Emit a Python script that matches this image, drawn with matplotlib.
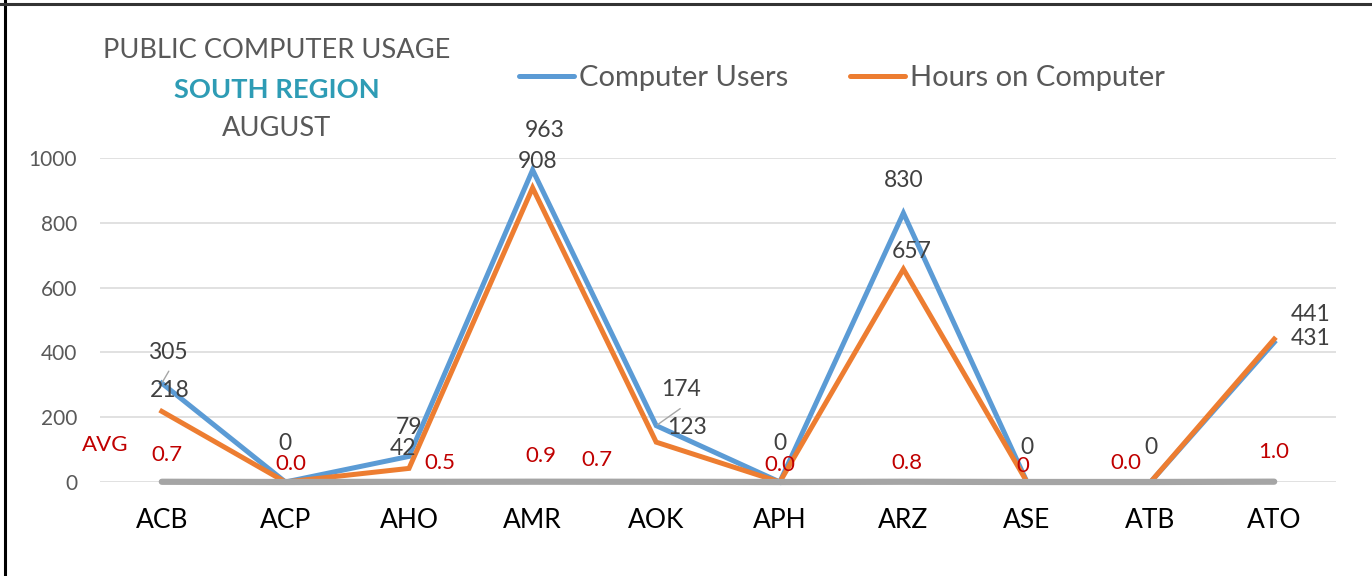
import matplotlib
matplotlib.use('Agg')
import matplotlib.pyplot as plt
from matplotlib.lines import Line2D

plt.rcParams['font.family'] = ['Lato', 'DejaVu Sans']

# data
branches = ['ACB', 'ACP', 'AHO', 'AMR', 'AOK', 'APH', 'ARZ', 'ASE', 'ATB', 'ATO']
users = [305, 0, 79, 963, 174, 0, 830, 0, 0, 431]
hours = [218, 0, 42, 908, 123, 0, 657, 0, 0, 441]
avg_vals = [0.7, 0.0, 0.5, 0.9, 0.7, 0.0, 0.8, 0, 0.0, 1.0]
avg_text = ['0.7', '0.0', '0.5', '0.9', '0.7', '0.0', '0.8', '0', '0.0', '1.0']
yticks = [0, 200, 400, 600, 800, 1000]

# label offsets in pixels (hand placed like in the excel chart)
users_off = [(6, 31), (0, 38), (0, 29), (12, 39), (25, 36), (0, 38), (0, 33), (0, 34), (0, 35), (36, 4)]
hours_off = [(8, 21), None, (-6, 20), (5, 26), (31, 15), None, (8, 18), None, None, (36, 25)]
avg_off = [(5, 27), (5, 18), (31, 19), (8, 26), (-59, 22), (0, 17), (4, 19), (-4, 16), (-25, 19), (0, 30)]
leader_end = {0: (7, 12), 4: (24, 17)}

BLUE = '#5B9BD5'
ORANGE = '#ED7D31'
GRAY = '#A5A5A5'
TXT = '#404040'
RED = '#C00000'

W, H = 1372, 576
fig = plt.figure(figsize=(W / 100, H / 100), dpi=100)
ax = fig.add_axes([100 / W, (H - 482) / H, (1336 - 100) / W, (482 - 158) / H])

x = list(range(len(branches)))
ax.plot(x, users, color=BLUE, lw=3.6, zorder=3, clip_on=False, solid_joinstyle='miter')
ax.plot(x, hours, color=ORANGE, lw=3.6, zorder=4, clip_on=False, solid_joinstyle='miter')
ax.plot(x, avg_vals, color=GRAY, lw=4.5, zorder=5, clip_on=False, solid_capstyle='round')

ax.set_xlim(-0.5, len(branches) - 0.5)
ax.set_ylim(0, 1000)
ax.set_yticks(yticks)
ax.set_xticks(x)
ax.set_xticklabels(branches)
ax.grid(axis='y', color='#D9D9D9', lw=1.1, zorder=0)
for s in ax.spines.values():
    s.set_visible(False)
ax.tick_params(axis='y', length=0, pad=16.5, labelsize=15, labelcolor='#595959')
ax.tick_params(axis='x', length=0, pad=19, labelsize=19, labelcolor='black')

# data labels
for i in x:
    dx, dy = users_off[i]
    ax.annotate(str(users[i]), (i, users[i]), xytext=(dx, dy), textcoords='offset pixels',
                ha='center', va='center', fontsize=16.5, color=TXT, zorder=6)
    if i in leader_end:
        ax.annotate('', (i, users[i]), xytext=leader_end[i], textcoords='offset pixels',
                    arrowprops=dict(arrowstyle='-', color='#A6A6A6', lw=1, shrinkA=0, shrinkB=1))
    if hours_off[i] is not None:
        dx, dy = hours_off[i]
        ax.annotate(str(hours[i]), (i, hours[i]), xytext=(dx, dy), textcoords='offset pixels',
                    ha='center', va='center', fontsize=16.5, color=TXT, zorder=6)
    dx, dy = avg_off[i]
    ax.annotate(avg_text[i], (i, 0), xytext=(dx, dy), textcoords='offset pixels',
                ha='center', va='center', fontsize=16, color=RED, zorder=6)

fig.text(82 / W, 1 - 445 / H, 'AVG', color=RED, fontsize=16, ha='left', va='center')

# title
fig.text(277 / W, 1 - 51 / H, 'PUBLIC COMPUTER USAGE', color='#595959', fontsize=19.6, ha='center', va='center')
fig.text(277 / W, 1 - 90 / H, 'SOUTH REGION', color='#2E9CB5', fontsize=19.6, fontweight='bold',
         ha='center', va='center')
fig.text(277 / W, 1 - 129 / H, 'AUGUST', color='#595959', fontsize=19.6, ha='center', va='center')

# legend
handles = [Line2D([], [], color=BLUE, lw=3.6, solid_capstyle='round'),
           Line2D([], [], color=ORANGE, lw=3.6, solid_capstyle='round')]
leg = fig.legend(handles, ['Computer Users', 'Hours on Computer'], loc='center',
                 bbox_to_anchor=(842 / W, 1 - 78 / H), ncol=2, frameon=False, fontsize=21,
                 handlelength=1.9, handletextpad=0.17, columnspacing=2.1)
for t in leg.get_texts():
    t.set_color('#595959')

# frame of the screenshot
fig.add_artist(Line2D([5 / W, 5 / W], [0, 1], color='black', lw=2.2, transform=fig.transFigure))
fig.add_artist(Line2D([0, 1], [1 - 4 / H, 1 - 4 / H], color='#333333', lw=2.2, transform=fig.transFigure))

fig.savefig('out.png', dpi=100)
